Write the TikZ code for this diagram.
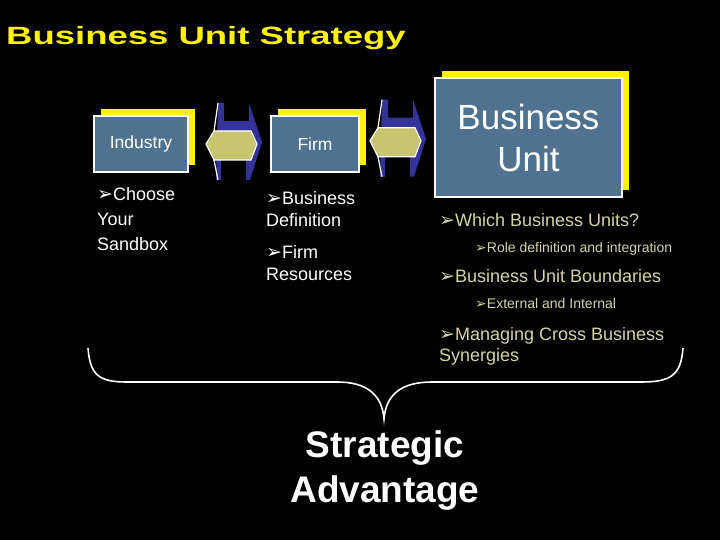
\documentclass[tikz,border=0pt]{standalone}
\usepackage{fontspec}
\setmainfont{Liberation Sans}
\newfontfamily\dingfont{DejaVu Sans}
\usetikzlibrary{shadows,calc}

\definecolor{boxblue}{RGB}{78,114,143}
\definecolor{khaki}{RGB}{200,196,112}
\definecolor{arrowblue}{RGB}{51,51,153}
\definecolor{notetext}{RGB}{214,212,165}

\newcommand{\bul}{{\dingfont\fontsize{19}{19}\selectfont ➢}}
\newcommand{\smallbul}{{\dingfont\fontsize{14}{14}\selectfont ➢}}

\tikzset{
  pics/dblarrow/.style={code={
    \fill[arrowblue] (-13.5,-42) -- (-7.5,-42) -- (-7.5,-24) -- (17.5,-24) -- (17.5,-42)
      -- (30.5,-3) -- (18.5,35) -- (14.5,35) -- (14.5,15) -- (-10.5,15) -- (-10.5,35) -- (-15.5,35) -- cycle;
    \filldraw[fill=khaki, draw=white, line width=1.2pt] (-25.5,-1) -- (-17.5,-14) -- (19.5,-14)
      -- (25.5,-1) -- (19.5,15) -- (-17.5,15) -- cycle;
    \draw[white, line width=1.2pt] (-13.5,-42) -- (-17.5,-14) (-17.5,15) -- (-13.5,35);
  }}
}

\begin{document}
\begin{tikzpicture}[
  x=1pt, y=-1pt,
  unit/.style={draw=white, line width=1.5pt, fill=boxblue, text=white, align=center,
    general shadow={fill=yellow, shadow xshift=7pt, shadow yshift=7pt}},
  note/.style={anchor=base west, align=left, inner sep=0pt, text=white,
    font=\fontsize{18}{22}\selectfont},
  bunote/.style={note, text=notetext},
  subnote/.style={bunote, font=\fontsize{14}{16}\selectfont},
  brace/.style={draw=white, line width=1.6pt}
]
\fill[black] (0,0) rectangle (720,540);
\useasboundingbox (0,0) rectangle (720,540);

% title
\node[anchor=base west, inner sep=0pt, text=yellow, font=\fontsize{25}{30}\bfseries] (title) at (6,45)
  {\scalebox{1.46}[1]{Business Unit Strategy}};

% the three levels
\node[unit, minimum width=94pt, minimum height=56pt, font=\fontsize{17.5}{20}\selectfont] (industry) at (141,144) {Industry};
\node[unit, minimum width=88pt, minimum height=56pt, font=\fontsize{17.5}{20}\selectfont] (firm) at (315,144) {Firm};
\node[unit, minimum width=187pt, minimum height=119pt, font=\fontsize{35}{42}\selectfont] (bu) at (528.5,137.5) {Business\\Unit};

\pic at ($(industry.east)!.5!(firm.west)+(2,1)$) {dblarrow};
\pic at ($(firm.east)!.5!(bu.west)-(1.5,-1)$) {dblarrow};

% bullets under each box (base = last line)
\node[note, font=\fontsize{18}{24.5}\selectfont] (sandbox) at (97,250) {\bul Choose\\Your\\Sandbox};
\node[note] (definition) at (266,226) {\bul Business\\Definition};
\node[note] (resources) at (266,280) {\bul Firm\\Resources};

\node[bunote] (which) at (439,226) {\bul Which Business Units?};
\node[subnote] (role) at (475,252) {\smallbul Role definition and integration};
\node[bunote] (bounds) at (439,282) {\bul Business Unit Boundaries};
\node[subnote] (extint) at (475,308) {\smallbul External and Internal};
\node[bunote, font=\fontsize{18}{21}\selectfont] (cross) at (439,361) {\bul Managing Cross Business\\Synergies};

% brace gathering everything
\coordinate (bl) at (88,348);
\coordinate (br) at (683,348);
\coordinate (tip) at (384,419);
\draw[brace] (bl) .. controls (90,376) and (100,382) .. (127,382) -- (337,382)
  .. controls (366,382) and (382,394) .. (tip)
  .. controls (386,394) and (402,382) .. (432,382) -- (641,382)
  .. controls (670,382) and (681,376) .. (br);

\node[anchor=base, align=center, inner sep=0pt, text=white, font=\fontsize{37}{45}\bfseries] (advantage) at (385,502)
  {Strategic\\Advantage};
\end{tikzpicture}
\end{document}
